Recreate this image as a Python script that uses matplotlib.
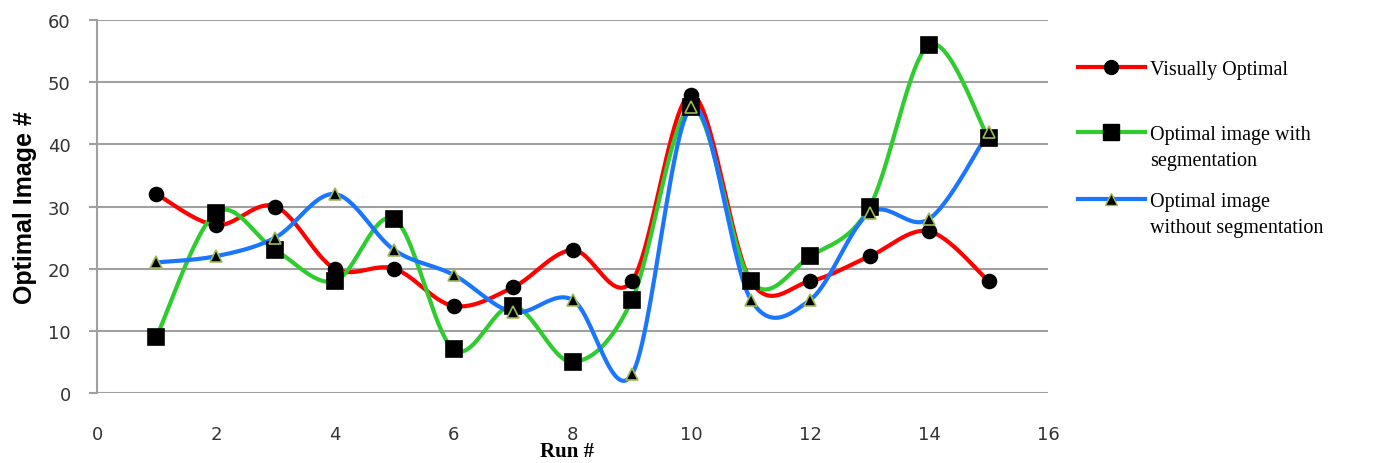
import matplotlib
matplotlib.use("Agg")
import matplotlib.pyplot as plt
from matplotlib.lines import Line2D
import numpy as np

# Data
runs = [1, 2, 3, 4, 5, 6, 7, 8, 9, 10, 11, 12, 13, 14, 15]
visually_optimal = [32, 27, 30, 20, 20, 14, 17, 23, 18, 48, 18, 18, 22, 26, 18]
with_seg = [9, 29, 23, 18, 28, 7, 14, 5, 15, 46, 18, 22, 30, 56, 41]
without_seg = [21, 22, 25, 32, 23, 19, 13, 15, 3, 46, 15, 15, 29, 28, 42]

labels = ["Visually Optimal", "Optimal image with\nsegmentation", "Optimal image\nwithout segmentation"]
colors = ["#ff0000", "#2ecc2e", "#1a75ff"]


def smooth(x, y, n=30):
    # Catmull-Rom curve through the points (like Excel's smoothed lines)
    x = np.asarray(x, float)
    y = np.asarray(y, float)
    px = np.concatenate([[x[0]], x, [x[-1]]])
    py = np.concatenate([[y[0]], y, [y[-1]]])
    xs, ys = [], []
    t = np.linspace(0, 1, n)
    for i in range(1, len(px) - 2):
        p0, p1, p2, p3 = (np.array([px[j], py[j]]) for j in range(i - 1, i + 3))
        c1 = p1 + (p2 - p0) / 6
        c2 = p2 - (p3 - p1) / 6
        b = ((1 - t) ** 3)[:, None] * p1 + (3 * (1 - t) ** 2 * t)[:, None] * c1 \
            + (3 * (1 - t) * t ** 2)[:, None] * c2 + (t ** 3)[:, None] * p2
        xs.extend(b[:, 0])
        ys.extend(b[:, 1])
    return xs, ys


fig = plt.figure(figsize=(13.9, 4.64), dpi=100)
ax = fig.add_axes([0.0698, 0.1509, 0.6842, 0.8038])

series = [visually_optimal, with_seg, without_seg]
markers = ["o", "s", "^"]
msizes = [10, 11, 9]
medges = ["black", "black", "#9bbb59"]

for vals, c, m, ms, me in zip(series, colors, markers, msizes, medges):
    sx, sy = smooth(runs, vals)
    ax.plot(sx, sy, color=c, lw=3, solid_capstyle="round", zorder=2)
    ax.plot(runs, vals, ls="none", marker=m, ms=ms, mfc="black", mec=me, mew=1.2, zorder=3)

ax.set_xlim(0, 16)
ax.set_ylim(0, 60)
ax.set_xticks(range(0, 17, 2))
ax.set_yticks(range(0, 61, 10))
ax.grid(axis="y", color="#a0a0a0", lw=1.5, zorder=0)
for s in ["top", "right", "bottom"]:
    ax.spines[s].set_visible(False)
ax.spines["left"].set_color("#a0a0a0")
ax.spines["left"].set_linewidth(1.5)
ax.tick_params(axis="y", length=6, width=1.5, color="#a0a0a0", pad=13, labelsize=13)
ax.tick_params(axis="x", length=0, pad=23, labelsize=13)
for lab in ax.get_xticklabels() + ax.get_yticklabels():
    lab.set_color("#333333")

ax.set_ylabel("Optimal Image #", fontsize=18, fontweight="bold", family="Liberation Sans", labelpad=8)
fig.text(567 / 1390, 1 - 452 / 464, "Run #", fontsize=15, fontweight="bold",
         family="Liberation Serif", ha="center", va="center")

# Legend drawn by hand
ly = [68, 133, 200]
for y, c, m, ms, me, lab in zip(ly, colors, markers, msizes, medges, labels):
    fy = 1 - y / 464
    fig.add_artist(Line2D([1078 / 1390, 1145 / 1390], [fy, fy], color=c, lw=3,
                          transform=fig.transFigure))
    fig.add_artist(Line2D([1111 / 1390], [fy], ls="none", marker=m, ms=ms, mfc="black",
                          mec=me, transform=fig.transFigure))
    fig.text(1150 / 1390, fy + 7 / 464, lab, fontsize=14.5, family="Liberation Serif",
             va="top", ha="left", linespacing=1.5)

fig.savefig("out.png", dpi=100)
